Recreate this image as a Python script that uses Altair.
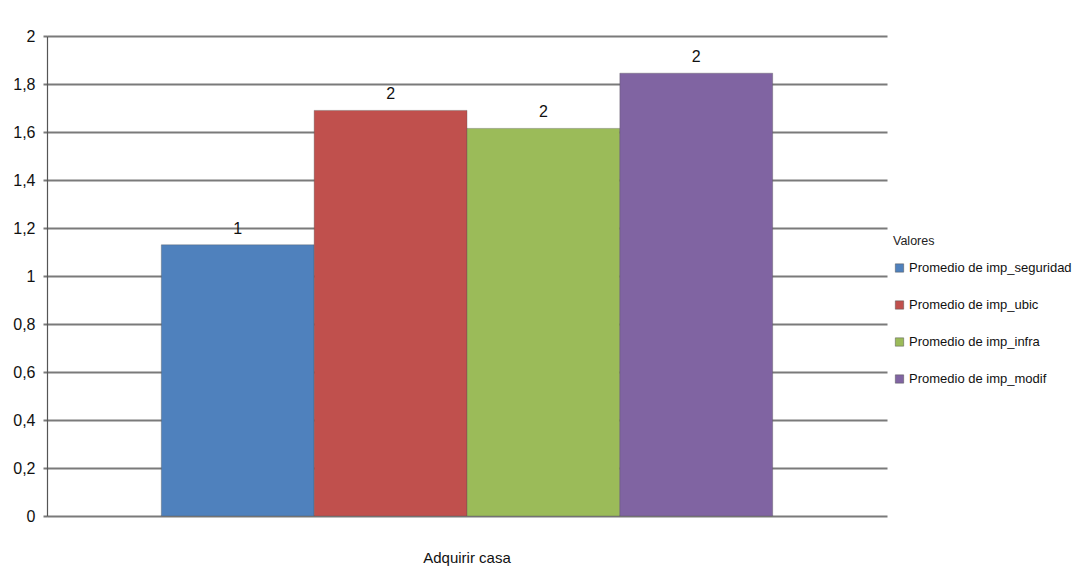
import altair as alt
import pandas as pd

grupo = ["Adquirir casa"]
series = ["Promedio de imp_seguridad", "Promedio de imp_ubic", "Promedio de imp_infra", "Promedio de imp_modif"]
valores = [1.13, 1.69, 1.615, 1.845]
colores = ["#4F81BD", "#C0504D", "#9BBB59", "#8064A2"]
y_ticks = [0, 0.2, 0.4, 0.6, 0.8, 1.0, 1.2, 1.4, 1.6, 1.8, 2.0]

df = pd.DataFrame({"grupo": grupo * len(series), "serie": series, "valor": valores})

FONT = "Liberation Sans, Arial, sans-serif"

x = alt.X("grupo:N", title=None,
          scale=alt.Scale(paddingOuter=0.187, paddingInner=0),
          axis=alt.Axis(labelAngle=0, domain=False, ticks=False, labelPadding=34,
                        labelFontSize=15, labelColor="#111", labelFont=FONT))
xo = alt.XOffset("serie:N", sort=series, scale=alt.Scale(paddingInner=0, paddingOuter=0))
y = alt.Y("valor:Q", title=None,
          scale=alt.Scale(domain=[0, 2], nice=False),
          axis=alt.Axis(values=y_ticks, labelExpr="replace(format(datum.value, '.1~f'), '.', ',')",
                        grid=True, gridColor="#7a7a7a", gridWidth=2,
                        ticks=True, tickSize=4, tickColor="#7a7a7a", tickWidth=2,
                        domain=True, domainColor="#555", domainWidth=1.2,
                        labelFontSize=16, labelColor="#111", labelFont=FONT, labelPadding=8))

bars = alt.Chart(df).mark_bar(stroke="#555", strokeWidth=0.6, strokeOpacity=0.6).encode(
    x=x, xOffset=xo, y=y,
    color=alt.Color("serie:N", sort=series,
                    scale=alt.Scale(domain=series, range=colores),
                    legend=alt.Legend(title="Valores", orient="none", legendX=846, legendY=199,
                                      symbolType="square", symbolSize=70, symbolStrokeWidth=0.5,
                                      symbolStrokeColor="#555", symbolOffset=0,
                                      labelFontSize=13, labelFont=FONT, labelColor="#111", labelLimit=300,
                                      labelOffset=3,
                                      titleFontSize=12.5, titleFont=FONT, titleFontWeight="normal",
                                      titleColor="#222", titlePadding=14, rowPadding=23))
)

labels = alt.Chart(df).mark_text(dy=-16, fontSize=16, font=FONT, color="#111").encode(
    x=x, xOffset=xo, y=y, text=alt.Text("valor:Q", format=".0f")
)

chart = (bars + labels).properties(
    width=840, height=480,
    autosize=alt.AutoSizeParams(type="none"),
    padding={"left": 47, "top": 36, "right": 186, "bottom": 65},
    background="white",
).configure_view(stroke=None)

chart.save("out.html", embed_options={"renderer": "svg", "actions": False})
